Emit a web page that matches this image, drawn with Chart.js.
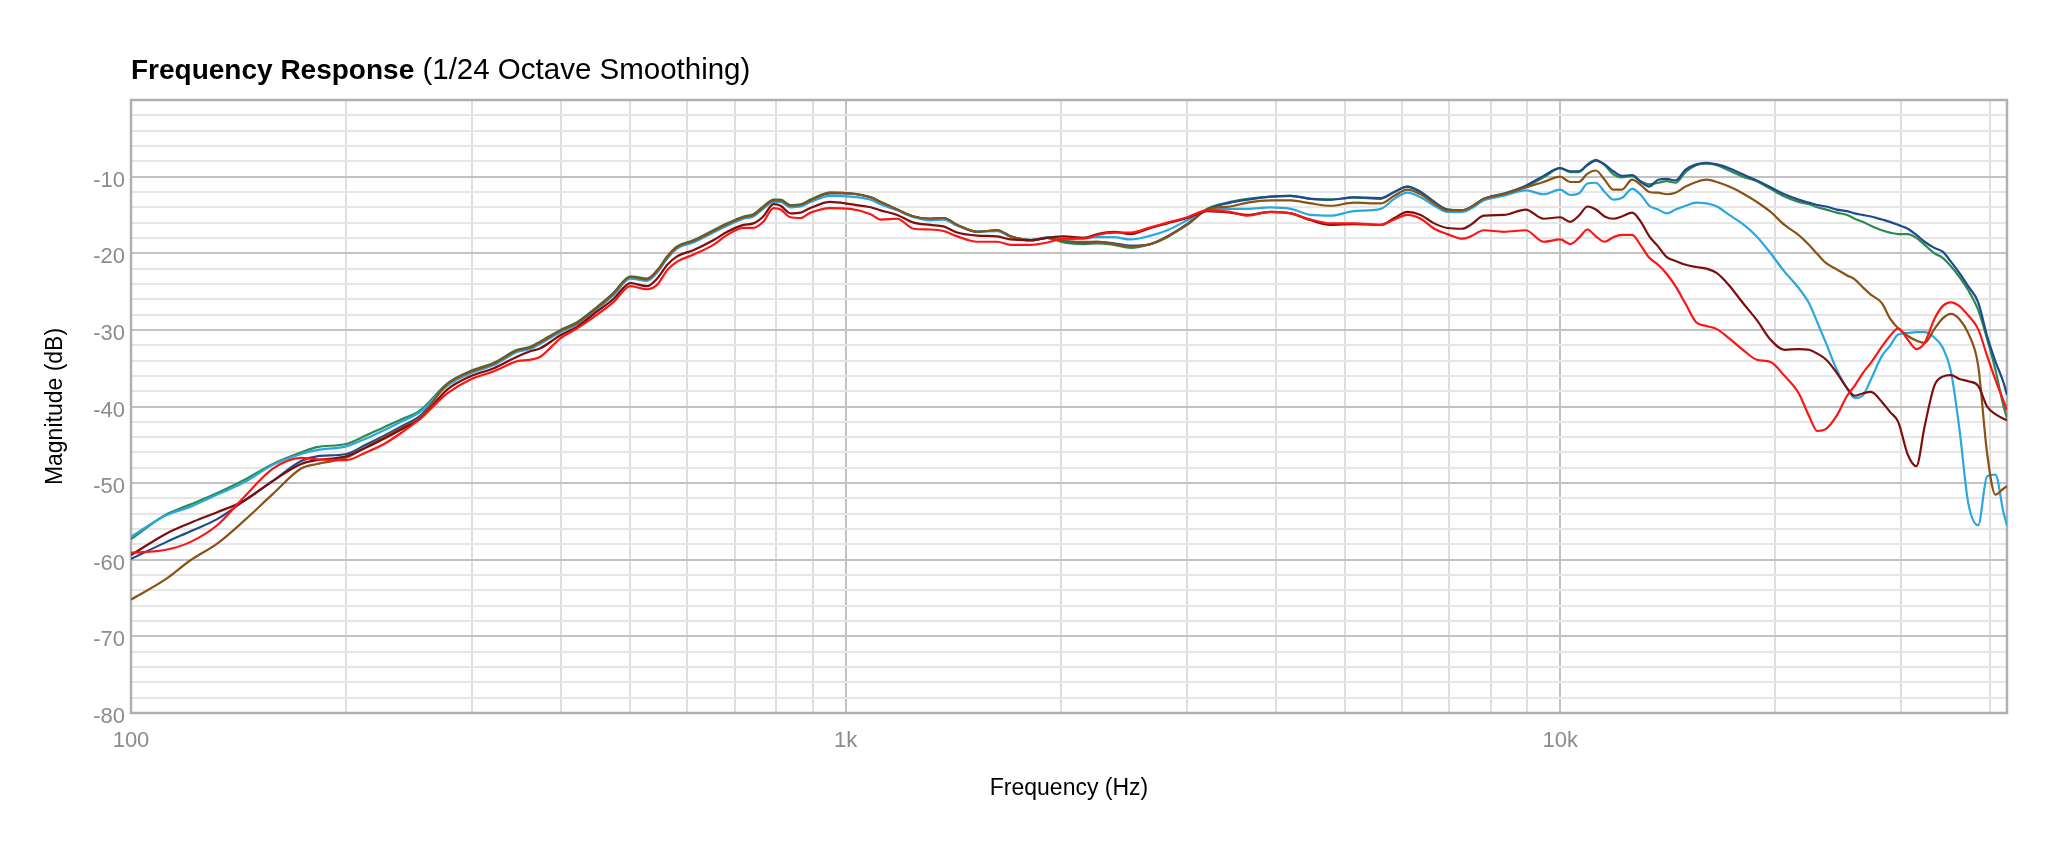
<!DOCTYPE html>
<html>
<head>
<meta charset="utf-8">
<title>Frequency Response</title>
<script src="https://cdn.jsdelivr.net/npm/chart.js@4.4.1/dist/chart.umd.min.js"></script>
<style>
  html, body { margin: 0; background: #fff; }
  #wrap { position: relative; width: 2048px; height: 853px; }
  #title {
    position: absolute; left: 131px; top: 54px;
    font: 29.5px/29px 'Liberation Sans', Arial, sans-serif;
    color: #000; white-space: nowrap;
  }
  #title b { font-weight: 700; font-size: 28px; }
  canvas { display: block; }
</style>
</head>
<body>
<div id="wrap">
  <div id="title"><b>Frequency Response</b> (1/24 Octave Smoothing)</div>
  <canvas id="fr-chart" width="2048" height="853"></canvas>
</div>
<script>
// frequencies (Hz) shared by every curve
const freqs = [
  100, 112, 121, 132, 144, 158, 173, 182, 200, 213, 226, 240, 254,
  277, 298, 322, 347, 362, 374, 399, 421, 449, 473, 500, 527, 545, 563, 581, 612, 653, 683,
  720, 743, 767, 793, 811, 837, 865, 893, 952, 1016,
  1084, 1119, 1181, 1245, 1314, 1371, 1433, 1528, 1630, 1702, 1815, 1916,
  2020, 2156, 2250, 2373, 2505, 2673, 2820, 3006, 3207, 3455, 3651, 3933, 4198, 4477, 4776,
  5145, 5610, 5860, 6110, 6380, 6665, 6955, 7295, 7493, 7820, 8340, 8950, 9480,
  10000, 10330, 10620, 10920, 11220, 11540, 11870, 12200, 12610, 12970, 13330, 13710, 14100,
  14500, 14980, 15500, 16030, 16570, 17240, 18020, 18840, 19700, 20600, 21550, 22290, 22900,
  23570, 24380, 25210, 25830, 26490, 27210, 28200, 28940, 29720, 30660, 31510, 32360, 33390,
  34300, 35220, 36210, 37230, 38460, 39580, 40650, 41740, 42200
];

// magnitude (dB) per curve
const navyDb = [
  -59.9, -57.7, -56.3, -54.7, -52.3, -49.7, -47.1, -46.5, -46.2, -45.0, -43.8, -42.5, -41.2,
  -37.1, -35.5, -34.4, -32.7, -32.3, -31.6, -30.1, -29.1, -27.1, -25.3, -23.1, -23.4, -22.3, -20.5, -19.2, -18.4, -17.1, -16.2,
  -15.3, -15.0, -14.0, -13.1, -13.1, -13.8, -13.7, -13.1, -12.2, -12.2,
  -12.7, -13.3, -14.3, -15.2, -15.5, -15.4, -16.3, -17.2, -17.0, -17.8, -18.3, -18.0,
  -18.4, -18.6, -18.5, -18.7, -19.0, -18.8, -17.8, -16.2, -14.3, -13.4, -13.0, -12.6, -12.5, -12.9, -13.0,
  -12.7, -12.8, -12.0, -11.3, -12.0, -13.3, -14.3, -14.4, -14.0, -12.9, -12.2, -11.2, -9.9,
  -8.9, -9.3, -9.3, -8.5, -7.9, -8.4, -9.3, -9.9, -9.8, -10.7, -11.3, -10.4, -10.3,
  -10.5, -9.1, -8.4, -8.2, -8.4, -8.9, -9.7, -10.5, -11.4, -12.3, -13.0, -13.4, -13.7,
  -13.9, -14.3, -14.5, -14.8, -15.0, -15.2, -15.6, -15.9, -16.3, -16.8, -17.6, -18.5, -19.3,
  -19.8, -21.1, -22.6, -24.3, -26.4, -30.8, -34.1, -36.9, -38.5
];
const greenDb = [
  -57.3, -54.1, -52.8, -51.3, -49.6, -47.5, -46.0, -45.3, -44.9, -43.8, -42.7, -41.6, -40.5,
  -37.0, -35.4, -34.3, -32.6, -32.2, -31.5, -30.0, -29.0, -27.0, -25.2, -23.0, -23.3, -22.2, -20.4, -19.1, -18.3, -17.0, -16.1,
  -15.2, -14.9, -13.9, -13.0, -13.0, -13.7, -13.6, -13.0, -12.1, -12.2,
  -12.7, -13.3, -14.3, -15.2, -15.5, -15.4, -16.3, -17.2, -17.0, -17.8, -18.3, -18.0,
  -18.6, -18.8, -18.7, -18.9, -19.3, -18.8, -17.9, -16.2, -14.2, -13.3, -12.9, -12.6, -12.5, -12.9, -13.0,
  -12.7, -12.9, -12.0, -11.3, -12.0, -13.3, -14.3, -14.4, -14.0, -12.9, -12.3, -11.3, -10.1,
  -8.9, -9.4, -9.4, -8.4, -7.8, -8.5, -9.7, -10.1, -9.9, -10.6, -11.0, -10.8, -10.6,
  -10.8, -9.4, -8.5, -8.3, -8.5, -9.2, -10.0, -10.6, -11.6, -12.6, -13.3, -13.6, -14.0,
  -14.3, -14.7, -15.0, -15.5, -15.9, -16.4, -17.0, -17.3, -17.5, -17.5, -18.0, -18.9, -20.0,
  -20.6, -21.7, -23.1, -24.8, -27.4, -31.2, -35.2, -40.0, -41.5
];
const lightBlueDb = [
  -57.0, -54.2, -53.1, -51.5, -49.9, -47.6, -46.2, -45.7, -45.2, -44.2, -43.1, -41.9, -40.7,
  -37.3, -35.7, -34.6, -32.9, -32.5, -31.8, -30.3, -29.3, -27.3, -25.5, -23.3, -23.6, -22.5, -20.7, -19.4, -18.6, -17.3, -16.4,
  -15.5, -15.2, -14.2, -13.3, -13.3, -14.0, -13.9, -13.3, -12.5, -12.6,
  -13.0, -13.6, -14.4, -15.3, -15.7, -15.6, -16.4, -17.2, -17.1, -17.8, -18.3, -17.9,
  -18.2, -18.0, -17.9, -17.9, -18.2, -17.7, -17.0, -15.7, -14.4, -14.2, -14.2, -14.0, -14.2, -15.0, -15.1,
  -14.5, -14.2, -12.9, -12.1, -12.7, -13.8, -14.6, -14.6, -14.2, -13.1, -12.5, -11.8, -12.3,
  -11.7, -12.4, -12.2, -10.9, -10.8, -12.0, -13.0, -12.8, -11.6, -12.4, -13.8, -14.3, -14.8,
  -14.3, -13.8, -13.4, -13.5, -13.9, -15.0, -16.2, -17.8, -20.0, -22.4, -24.5, -26.5, -29.0,
  -31.8, -35.2, -37.7, -38.9, -38.6, -36.5, -33.4, -32.1, -30.6, -30.4, -30.3, -30.3, -31.0,
  -32.3, -35.4, -43.0, -52.5, -55.5, -49.1, -48.9, -53.9, -55.5
];
const brownDb = [
  -65.2, -62.5, -60.1, -57.9, -54.9, -51.4, -48.1, -47.5, -46.7, -45.3, -44.0, -42.7, -41.4,
  -37.1, -35.5, -34.4, -32.7, -32.3, -31.6, -30.1, -29.1, -27.1, -25.3, -23.1, -23.4, -22.3, -20.5, -19.2, -18.4, -17.1, -16.2,
  -15.3, -15.0, -14.0, -13.1, -13.1, -13.8, -13.7, -13.1, -12.1, -12.2,
  -12.7, -13.3, -14.3, -15.2, -15.5, -15.4, -16.3, -17.2, -17.0, -17.8, -18.3, -18.0,
  -18.4, -18.5, -18.5, -18.8, -19.1, -18.8, -17.8, -16.3, -14.3, -13.9, -13.4, -13.1, -13.1, -13.5, -13.8,
  -13.4, -13.5, -12.5, -11.7, -12.3, -13.5, -14.4, -14.4, -14.0, -12.9, -12.3, -11.4, -10.7,
  -10.0, -10.7, -10.7, -9.6, -9.2, -10.4, -11.7, -11.7, -10.4, -11.1, -12.0, -12.1, -12.3,
  -12.1, -11.3, -10.7, -10.4, -10.7, -11.3, -12.2, -13.3, -14.6, -16.3, -17.6, -18.9, -20.1,
  -21.3, -22.1, -22.9, -23.4, -24.4, -25.4, -26.5, -28.5, -29.8, -30.8, -31.4, -31.7, -29.9,
  -28.5, -27.9, -28.6, -30.4, -34.7, -46.1, -51.5, -50.7, -50.4
];
const maroonDb = [
  -59.4, -56.6, -55.2, -53.8, -52.3, -49.7, -47.5, -47.0, -46.5, -45.4, -44.2, -42.9, -41.6,
  -37.8, -36.1, -35.0, -33.5, -32.8, -32.4, -30.7, -29.6, -27.6, -26.0, -23.9, -24.3, -23.3, -21.5, -20.4, -19.6, -18.3, -17.2,
  -16.3, -16.1, -15.2, -13.6, -13.8, -14.8, -14.7, -14.1, -13.3, -13.6,
  -14.0, -14.4, -15.0, -16.0, -16.3, -16.5, -17.3, -17.7, -17.8, -18.2, -18.3, -18.0,
  -17.8, -18.0, -17.5, -17.2, -17.5, -16.7, -16.1, -15.4, -14.5, -14.7, -15.0, -14.6, -14.8, -15.7, -16.3,
  -16.2, -16.3, -15.4, -14.6, -15.0, -16.1, -16.7, -16.8, -16.3, -15.1, -15.0, -14.3, -15.5,
  -15.3, -15.9, -15.1, -13.9, -14.3, -15.2, -15.5, -15.2, -14.7, -15.9, -17.8, -19.1, -20.5,
  -21.0, -21.5, -21.8, -22.0, -22.6, -24.2, -26.5, -28.7, -31.3, -32.6, -32.5, -32.6, -33.1,
  -33.9, -35.6, -37.6, -38.6, -38.3, -38.1, -39.4, -40.7, -42.0, -46.3, -47.8, -42.6, -37.3,
  -36.1, -35.9, -36.4, -36.7, -37.3, -40.0, -41.0, -41.6, -41.8
];
const redDb = [
  -59.1, -58.7, -57.7, -55.5, -51.8, -48.1, -46.7, -46.9, -47.0, -46.0, -44.9, -43.3, -41.6,
  -38.3, -36.5, -35.4, -34.1, -33.9, -33.5, -31.1, -29.8, -28.0, -26.4, -24.3, -24.7, -24.1, -22.2, -21.1, -20.2, -18.9, -17.6,
  -16.7, -16.7, -15.9, -14.1, -14.3, -15.3, -15.4, -14.7, -14.1, -14.2,
  -14.9, -15.6, -15.5, -16.8, -16.9, -17.1, -17.8, -18.5, -18.5, -18.9, -18.9, -18.6,
  -18.1, -18.1, -17.6, -17.3, -17.3, -16.6, -16.0, -15.3, -14.4, -14.6, -15.1, -14.6, -14.8, -15.6, -16.1,
  -16.1, -16.3, -15.6, -15.0, -15.5, -16.8, -17.5, -18.1, -17.8, -17.0, -17.2, -17.0, -18.5,
  -18.2, -18.8, -18.0, -16.9, -17.8, -18.5, -17.9, -17.6, -17.6, -19.0, -20.6, -21.5, -22.7,
  -24.3, -26.6, -29.0, -29.5, -29.9, -31.1, -32.6, -33.9, -34.2, -36.0, -38.2, -41.2, -43.2,
  -42.9, -41.2, -38.6, -37.3, -35.7, -34.3, -32.2, -30.8, -29.8, -31.3, -32.5, -31.7, -28.6,
  -26.9, -26.4, -26.9, -28.1, -29.9, -33.4, -36.5, -39.3, -40.5
];

// which frequencies get a grid line, and which of them get a label
const xGridTicks = [
  100, 200, 300, 400, 500, 600, 700, 800, 900,
  1000, 2000, 3000, 4000, 5000, 6000, 7000, 8000, 9000,
  10000, 20000, 30000, 40000
];
const xTickLabels = { 100: '100', 1000: '1k', 10000: '10k' };

const FONT = "'Liberation Sans', Arial, sans-serif";
const MAJOR = '#c2c2c2';

// drawn bottom to top
const curves = [
  { label: 'Red', values: redDb, color: '#ff1414' },
  { label: 'Dark red', values: maroonDb, color: '#7e0e0e' },
  { label: 'Brown', values: brownDb, color: '#8a5214' },
  { label: 'Light blue', values: lightBlueDb, color: '#2aa7e0' },
  { label: 'Navy', values: navyDb, color: '#1c4c8e' },
  { label: 'Green', values: greenDb, color: '#2c8a50' }
];

// box around the plot area
const frame = {
  id: 'frame',
  beforeDatasetsDraw(chart) {
    const { ctx, chartArea: a } = chart;
    ctx.save();
    ctx.strokeStyle = '#b0b0b0';
    ctx.lineWidth = 2.5;
    ctx.strokeRect(a.left, a.top, a.right - a.left, a.bottom - a.top);
    ctx.restore();
  }
};

new Chart(document.getElementById('fr-chart'), {
  type: 'line',
  data: {
    datasets: curves.map(c => ({
      label: c.label,
      data: freqs.map((f, i) => ({ x: f, y: c.values[i] })),
      borderColor: c.color,
      backgroundColor: c.color,
      borderWidth: 2.2,
      pointRadius: 0,
      fill: false,
      cubicInterpolationMode: 'monotone'
    }))
  },
  options: {
    responsive: false,
    animation: false,
    layout: { padding: { top: 100, right: 41, bottom: 0, left: 0 } },
    plugins: {
      legend: { display: false },
      tooltip: { enabled: false }
    },
    scales: {
      x: {
        type: 'logarithmic',
        min: 100,
        max: 42200,
        afterBuildTicks: scale => { scale.ticks = xGridTicks.map(v => ({ value: v })); },
        afterFit: scale => { scale.height = 140; },
        ticks: {
          autoSkip: false,
          maxRotation: 0,
          padding: 15,
          color: '#8c8c8c',
          font: { family: FONT, size: 22 },
          callback: v => xTickLabels[v] || ''
        },
        grid: {
          drawTicks: false,
          lineWidth: 2,
          color: c => (xTickLabels[c.tick.value] ? MAJOR : '#dedede')
        },
        border: { display: false },
        title: {
          display: true,
          text: 'Frequency (Hz)',
          color: '#000',
          font: { family: FONT, size: 23 },
          padding: { top: 0, bottom: 51 }
        }
      },
      y: {
        min: -80,
        max: 0,
        afterFit: scale => { scale.width = 131; },
        ticks: {
          stepSize: 2,
          autoSkip: false,
          padding: 6,
          labelOffset: 4,
          color: '#8c8c8c',
          font: { family: FONT, size: 22 },
          callback: v => (v % 10 === 0 && v !== 0 ? String(v) : '')
        },
        grid: {
          drawTicks: false,
          lineWidth: 2,
          color: c => (c.tick.value % 10 === 0 ? MAJOR : '#e6e6e6')
        },
        border: { display: false },
        title: {
          display: true,
          text: 'Magnitude (dB)',
          color: '#000',
          font: { family: FONT, size: 23 },
          padding: { top: 42, bottom: 0 }
        }
      }
    }
  },
  plugins: [frame]
});
</script>
</body>
</html>
